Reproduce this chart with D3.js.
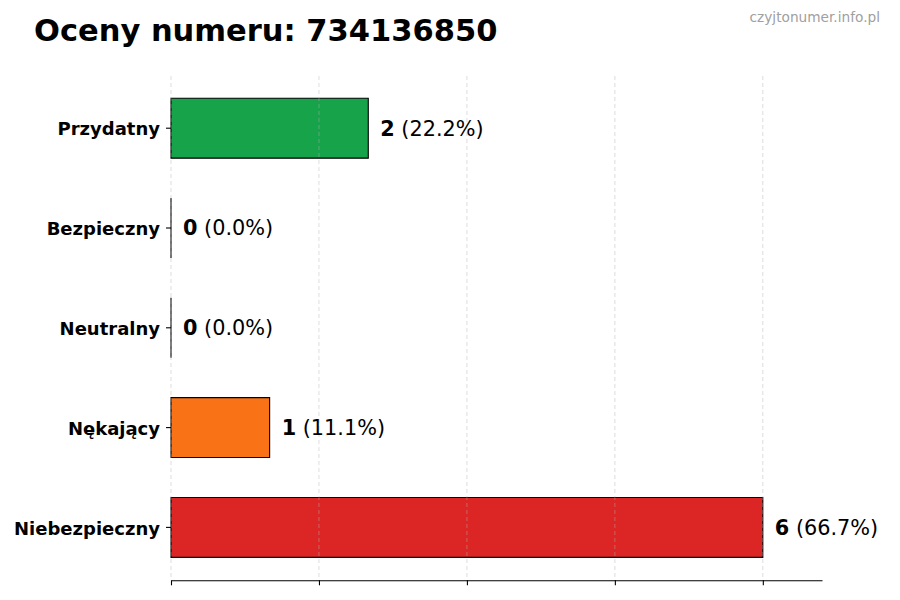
<!DOCTYPE html>
<html><head><meta charset="utf-8">
<script src="https://cdn.jsdelivr.net/npm/d3@7"></script>
<style>body{margin:0;background:#fff}svg{display:block;font-family:"DejaVu Sans",sans-serif}</style>
</head><body>
<script>
const categories = ["Przydatny","Bezpieczny","Neutralny","Nękający","Niebezpieczny"];
const counts = [2,0,0,1,6];
const percents = ["22.2%","0.0%","0.0%","11.1%","66.7%"];
const colors = ["#16a34a","#3b82f6","#9ca3af","#f97316","#dc2626"];
const xTicks = [0,1.5,3,4.5,6];
const title = "Oceny numeru: 734136850";
const watermark = "czyjtonumer.info.pl";

const W=900,H=600;
const svg=d3.select("body").append("svg").attr("width",W).attr("height",H);
const x=d3.scaleLinear().domain([0,6.6]).range([171,822]);
const y=d3.scaleBand().domain(categories).range([78.3,577.3]).paddingInner(0.4).paddingOuter(0.2);
const axisY=580.3, gridTop=76;

svg.append("text").attr("x",34).attr("y",41).attr("font-size",30.5).attr("font-weight","bold").attr("fill","#000").text(title);
svg.append("text").attr("x",880).attr("y",22).attr("text-anchor","end").attr("font-size",13.7).attr("fill","#a0a0a0").text(watermark);

// bars (as closed paths so zero-width bars still show their outline)
svg.append("g").selectAll("path").data(categories).join("path")
  .attr("d",(d,i)=>{const p=d3.path();p.rect(x(0),y(d),x(counts[i])-x(0),y.bandwidth());return p.toString();})
  .attr("fill",(d,i)=>colors[i]).attr("stroke","#000").attr("stroke-width",1.1);

// grid (above bars)
svg.append("g").selectAll("line").data(xTicks).join("line")
  .attr("x1",d=>x(d)).attr("x2",d=>x(d)).attr("y1",gridTop).attr("y2",axisY)
  .attr("stroke","#b0b0b0").attr("stroke-opacity",0.55).attr("stroke-width",0.8).attr("stroke-dasharray","4,3");

// x axis
const xa=svg.append("g").attr("transform",`translate(0,${axisY})`)
  .call(d3.axisBottom(x).tickValues(xTicks).tickFormat("").tickSize(5).tickSizeOuter(0));
xa.select(".domain").attr("stroke","#000").attr("stroke-width",1.1);
xa.selectAll(".tick line").attr("stroke","#000").attr("stroke-width",1.1);

// y axis labels
const ya=svg.append("g").attr("transform",`translate(${x(0)},0)`)
  .call(d3.axisLeft(y).tickSize(5).tickPadding(6));
ya.select(".domain").remove();
ya.selectAll(".tick line").attr("stroke","#000").attr("stroke-width",1.1);
ya.selectAll(".tick text").attr("font-size",18).attr("font-weight","bold").attr("fill","#000").attr("font-family","DejaVu Sans").attr("dy","0.4em");

// value labels
const vl=svg.append("g").selectAll("text").data(categories).join("text")
  .attr("x",(d,i)=>x(counts[i])+12).attr("y",d=>y(d)+y.bandwidth()/2).attr("dy","0.36em")
  .attr("font-size",20.8).attr("fill","#000");
vl.append("tspan").attr("font-weight","bold").text((d,i)=>counts[i]);
vl.append("tspan").text((d,i)=>" ("+percents[i]+")");
</script>
</body></html>
